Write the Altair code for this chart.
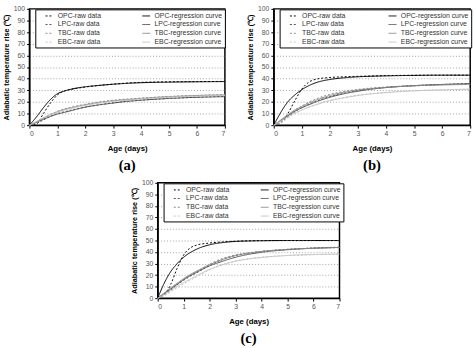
import altair as alt
import pandas as pd

# Sampling ages (days) shared by every curve
AGE = [0, 0.25, 0.5, 0.75, 1, 1.25, 1.5, 2, 2.5, 3, 3.5, 4, 5, 6, 7]

# Legend fills column by column: raw data on the left, regression curves on the right
SERIES = [
    "OPC-raw data", "LPC-raw data", "TBC-raw data", "EBC-raw data",
    "OPC-regression curve", "LPC-regression curve",
    "TBC-regression curve", "EBC-regression curve",
]
COLORS = ["#000000", "#505050", "#8a8a8a", "#c4c4c4",
          "#000000", "#505050", "#8a8a8a", "#c4c4c4"]
DASHES = [[2, 2], [2, 2], [2, 2], [2, 2], [1, 0], [1, 0], [1, 0], [1, 0]]
WIDTHS = [1, 1, 1, 1, 2.2, 1.8, 2, 2]

# (a)
A_OPC_RAW = [0, 1, 10, 19, 26, 29.5, 30.8, 32.8, 34.2, 35.3, 36.2, 36.8, 37.3, 37.5, 37.6]
A_OPC_REG = [0, 7, 15, 22, 27, 29.3, 31, 33, 34.2, 35.2, 36, 36.5, 37, 37.3, 37.5]
A_LPC_RAW = [0, 1.5, 4.5, 7.5, 10, 11.5, 13, 15.5, 17.5, 19.2, 20.5, 21.5, 23, 24, 24.8]
A_LPC_REG = [0, 2.5, 5, 7.5, 9.5, 11, 12.5, 15.5, 17.5, 19, 20.5, 21.5, 23, 24, 24.5]
A_TBC_RAW = [0, 2, 5.5, 9, 11.8, 14, 15.5, 18, 20, 21.5, 22.5, 23.3, 24.7, 25.6, 26.2]
A_TBC_REG = [0, 3, 6, 9, 11.5, 13.5, 15, 17.5, 19.5, 21, 22, 23, 24.5, 25.5, 26]
A_EBC_RAW = [0, 2.5, 6, 9.5, 11.5, 13.5, 15, 17.5, 19.2, 20.7, 21.8, 22.7, 24.2, 25.2, 25.8]
A_EBC_REG = [0, 3, 6.5, 9, 11, 13, 14.5, 17, 19, 20.5, 21.5, 22.5, 24, 25, 25.5]

# (b)
B_OPC_RAW = [0, 2, 10, 21, 31, 37, 39.5, 41, 41.6, 42, 42.3, 42.6, 42.9, 43, 43]
B_OPC_REG = [0, 11, 20, 26, 30.5, 34, 36.5, 39.3, 40.7, 41.6, 42.1, 42.4, 42.8, 43, 43]
B_LPC_RAW = [0, 2.5, 7, 11.5, 15, 18, 20.5, 24.5, 27.5, 29.8, 31.3, 32.5, 34, 35, 35.8]
B_LPC_REG = [0, 4, 8, 12, 15, 17.5, 20, 24, 27, 29.2, 31, 32.3, 34, 35, 35.8]
B_TBC_RAW = [0, 3, 8, 13, 16.5, 19.8, 22.5, 26.5, 29, 30.8, 32, 32.8, 34, 34.8, 35.2]
B_TBC_REG = [0, 4.5, 9, 13, 16, 19, 21.5, 25.5, 28.3, 30.2, 31.5, 32.5, 33.8, 34.6, 35]
B_EBC_RAW = [0, 2, 6, 10, 13, 15.5, 17.8, 21.3, 23.8, 25.8, 27.2, 28.2, 29.7, 30.5, 31]
B_EBC_REG = [0, 3.5, 7, 10.5, 13, 15.5, 17.5, 21, 23.5, 25.5, 27, 28, 29.5, 30.3, 31]

# (c)
C_OPC_RAW = [0, 3, 12, 26, 37.5, 43.5, 46, 47.8, 48.8, 49.4, 49.7, 49.9, 50, 50, 50]
C_OPC_REG = [0, 13, 23, 30, 35.5, 39.5, 42.5, 46.3, 48.2, 49.2, 49.6, 49.8, 50, 50, 50]
C_LPC_RAW = [0, 3, 7, 11.5, 15.5, 19, 22, 28.5, 33.5, 37, 39, 40.5, 42.3, 43.5, 44.2]
C_LPC_REG = [0, 4, 8, 12, 16, 19.5, 22.5, 28, 32, 35.5, 38, 39.8, 42, 43.3, 44]
C_TBC_RAW = [0, 3.5, 8, 12.5, 16.5, 20, 23, 29.5, 34.5, 37.5, 39.3, 40.6, 42.3, 43.3, 43.8]
C_TBC_REG = [0, 4.5, 9, 13, 17, 20.5, 23.5, 29, 33.5, 37, 39, 40.5, 42.3, 43.3, 44]
C_EBC_RAW = [0, 2, 5.5, 9, 12.5, 15.5, 18.5, 24.5, 29, 32.3, 34.2, 35.5, 37, 37.8, 38]
C_EBC_REG = [0, 3, 6.5, 10, 13.5, 16.5, 19.5, 25, 29, 32, 34, 35.3, 37, 37.8, 38.3]

PANELS = [
    ("(a)", [A_OPC_RAW, A_LPC_RAW, A_TBC_RAW, A_EBC_RAW, A_OPC_REG, A_LPC_REG, A_TBC_REG, A_EBC_REG], 200, 119, 33),
    ("(b)", [B_OPC_RAW, B_LPC_RAW, B_TBC_RAW, B_EBC_RAW, B_OPC_REG, B_LPC_REG, B_TBC_REG, B_EBC_REG], 201, 119, 35),
    ("(c)", [C_OPC_RAW, C_LPC_RAW, C_TBC_RAW, C_EBC_RAW, C_OPC_REG, C_LPC_REG, C_TBC_REG, C_EBC_REG], 186, 118, 23),
]

FONT = "Liberation Sans"


def legend(col_pad):
    return alt.Legend(
        title=None, orient="none", legendX=6, legendY=0.5,
        columns=2, columnPadding=col_pad, rowPadding=1,
        symbolType="stroke", symbolSize=64, symbolOffset=8, labelOffset=4,
        labelFont=FONT, labelFontSize=7, labelColor="#333333", labelLimit=90,
        fillColor="white", strokeColor="black", padding=2,
    )


def panel(label, arrays, w, h, col_pad):
    rows = []
    for name, values in zip(SERIES, arrays):
        for age, rise in zip(AGE, values):
            rows.append({"series": name, "age": age, "rise": rise})
    df = pd.DataFrame(rows)
    return alt.Chart(df).mark_line(interpolate="monotone").encode(
        x=alt.X("age:Q", scale=alt.Scale(domain=[0, 7], nice=False),
                axis=alt.Axis(title="Age (days)", values=list(range(8)), grid=False,
                              titleFontSize=8, titlePadding=8)),
        y=alt.Y("rise:Q", scale=alt.Scale(domain=[0, 100], nice=False),
                axis=alt.Axis(title="Adiabatic temperature rise (℃)",
                              values=list(range(0, 101, 10)), grid=True,
                              titleFontSize=7.5, titlePadding=3)),
        color=alt.Color("series:N", scale=alt.Scale(domain=SERIES, range=COLORS), legend=legend(col_pad)),
        strokeDash=alt.StrokeDash("series:N", scale=alt.Scale(domain=SERIES, range=DASHES), legend=legend(col_pad)),
        strokeWidth=alt.StrokeWidth("series:N", scale=alt.Scale(domain=SERIES, range=WIDTHS), legend=legend(col_pad)),
    ).properties(
        width=w, height=h,
        title=alt.TitleParams(label, orient="bottom", font="Liberation Serif",
                              fontSize=15, fontWeight="bold", offset=6, anchor="middle"),
    )


a, b, c = [panel(*p) for p in PANELS]

top = alt.hconcat(a, b, spacing=18).resolve_scale(
    color="independent", strokeDash="independent", strokeWidth="independent"
).resolve_legend(color="independent", strokeDash="independent", strokeWidth="independent")

chart = alt.vconcat(top, c, spacing=4, center=True).resolve_scale(
    color="independent", strokeDash="independent", strokeWidth="independent"
).resolve_legend(
    color="independent", strokeDash="independent", strokeWidth="independent"
).properties(
    padding={"left": 1, "top": 0, "right": 1, "bottom": 1}
).configure_view(
    stroke="black", strokeWidth=1.5
).configure_axis(
    labelFont=FONT, labelFontSize=7, labelColor="#555555", labelPadding=2,
    titleFont=FONT, titleFontWeight="bold", titleColor="#000000",
    domainColor="#000000", domainWidth=1.2, tickColor="#000000", tickSize=3,
    gridColor="#8a8a8a", gridDash=[1, 2], gridWidth=0.8,
)

chart.save("out.html", embed_options={"renderer": "svg", "actions": False})
